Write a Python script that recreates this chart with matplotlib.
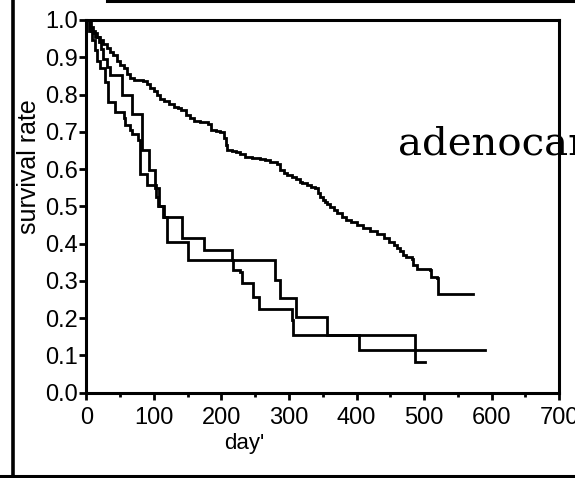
import matplotlib.pyplot as plt
from matplotlib.lines import Line2D
from matplotlib.ticker import MultipleLocator

# --- données (jour, taux de survie) ---
days_a = [0, 5, 10, 15, 20, 25, 30, 35, 40, 45, 50, 55, 60, 64, 70, 78, 84, 90, 94,
          100, 105, 109, 115, 122, 129, 135, 140, 148, 153, 160, 168, 180, 185, 192,
          198, 203, 206, 208, 215, 222, 228, 235, 245, 257, 265, 272, 282, 287, 292,
          297, 305, 311, 316, 320, 326, 332, 339, 343, 346, 350, 353, 357, 361, 366,
          371, 378, 385, 392, 400, 410, 420, 430, 440, 448, 455, 460, 464, 469, 474,
          482, 484, 489, 509, 511, 519, 521, 573]
surv_a = [1.0, 0.98, 0.965, 0.955, 0.945, 0.935, 0.925, 0.915, 0.905, 0.89, 0.88,
          0.87, 0.855, 0.845, 0.84, 0.838, 0.835, 0.828, 0.818, 0.81, 0.80, 0.789,
          0.782, 0.775, 0.767, 0.765, 0.758, 0.745, 0.736, 0.73, 0.726, 0.722, 0.706,
          0.703, 0.70, 0.683, 0.665, 0.651, 0.649, 0.645, 0.64, 0.633, 0.63, 0.627,
          0.623, 0.619, 0.614, 0.598, 0.59, 0.583, 0.578, 0.574, 0.566, 0.562, 0.557,
          0.553, 0.548, 0.535, 0.525, 0.518, 0.512, 0.505, 0.499, 0.49, 0.481, 0.472,
          0.463, 0.457, 0.45, 0.442, 0.433, 0.425, 0.415, 0.405, 0.396, 0.388, 0.38,
          0.369, 0.365, 0.36, 0.342, 0.331, 0.329, 0.311, 0.307, 0.266, 0.265]

days_b = [0, 6, 12, 18, 22, 25, 30, 35, 53, 67, 82, 92, 101, 108, 113, 141, 174,
          215, 279, 287, 311, 356, 487, 501]
surv_b = [1.0, 0.97, 0.955, 0.94, 0.923, 0.896, 0.875, 0.852, 0.798, 0.749, 0.651,
          0.597, 0.548, 0.50, 0.472, 0.414, 0.382, 0.356, 0.302, 0.253, 0.204, 0.155,
          0.083, 0.083]

days_c = [0, 3, 8, 12, 16, 20, 27, 32, 42, 55, 57, 64, 67, 77, 79, 80, 90, 103, 106,
          115, 119, 151, 217, 227, 230, 247, 255, 304, 306, 403, 590]
surv_c = [1.0, 0.97, 0.946, 0.92, 0.89, 0.87, 0.834, 0.78, 0.753, 0.736, 0.718,
          0.704, 0.695, 0.677, 0.646, 0.588, 0.557, 0.525, 0.50, 0.472, 0.405, 0.356,
          0.329, 0.324, 0.293, 0.257, 0.224, 0.194, 0.155, 0.114, 0.114]

y_ticks = [0.0, 0.1, 0.2, 0.3, 0.4, 0.5, 0.6, 0.7, 0.8, 0.9, 1.0]
x_ticks = [0, 100, 200, 300, 400, 500, 600, 700]

plt.rcParams['font.family'] = ['Liberation Sans', 'DejaVu Sans']

fig = plt.figure(figsize=(5.75, 4.78), dpi=100)
ax = fig.add_axes([0.1504, 0.1785, 0.8218, 0.7797])

# --- courbes de survie (escaliers) ---
for d, s in [(days_a, surv_a), (days_b, surv_b), (days_c, surv_c)]:
    ax.plot(d, s, color='black', lw=2.0, drawstyle='steps-post', solid_joinstyle='miter')

# --- mise en forme des axes ---
ax.set_xlim(0, 700)
ax.set_ylim(0, 1.0)
ax.set_xticks(x_ticks)
ax.set_yticks(y_ticks)
ax.set_yticklabels([f"{v:.1f}" for v in y_ticks])
ax.xaxis.set_minor_locator(MultipleLocator(50))
ax.tick_params(axis='both', which='major', direction='out', length=5, width=2,
               labelsize=17)
ax.tick_params(axis='y', which='major', pad=1)
ax.tick_params(axis='x', which='major', pad=5)
ax.tick_params(axis='x', which='minor', direction='out', length=3, width=2)
for sp in ax.spines.values():
    sp.set_linewidth(2.2)

ax.set_ylabel("survival rate", fontsize=18)
ax.yaxis.set_label_coords(-0.097, 0.607)
ax.set_xlabel("day'", fontsize=16)
ax.xaxis.set_label_coords(0.333, -0.108)

# texte coupé au bord droit
fig.text(398 / 575, 1 - 155 / 478, "adenocarcinoma", family='DejaVu Serif',
         fontsize=29, va='baseline', ha='left')

# cadre extérieur (scan)
fig.add_artist(Line2D([13 / 575, 13 / 575], [0, 1], transform=fig.transFigure,
                      color='black', lw=2.6))
fig.add_artist(Line2D([0, 1], [1 - 475.5 / 478] * 2, transform=fig.transFigure,
                      color='black', lw=2.2))
fig.add_artist(Line2D([107 / 575, 1], [1 - 1 / 478] * 2, transform=fig.transFigure,
                      color='black', lw=2.2))

fig.savefig("out.png", dpi=100)
